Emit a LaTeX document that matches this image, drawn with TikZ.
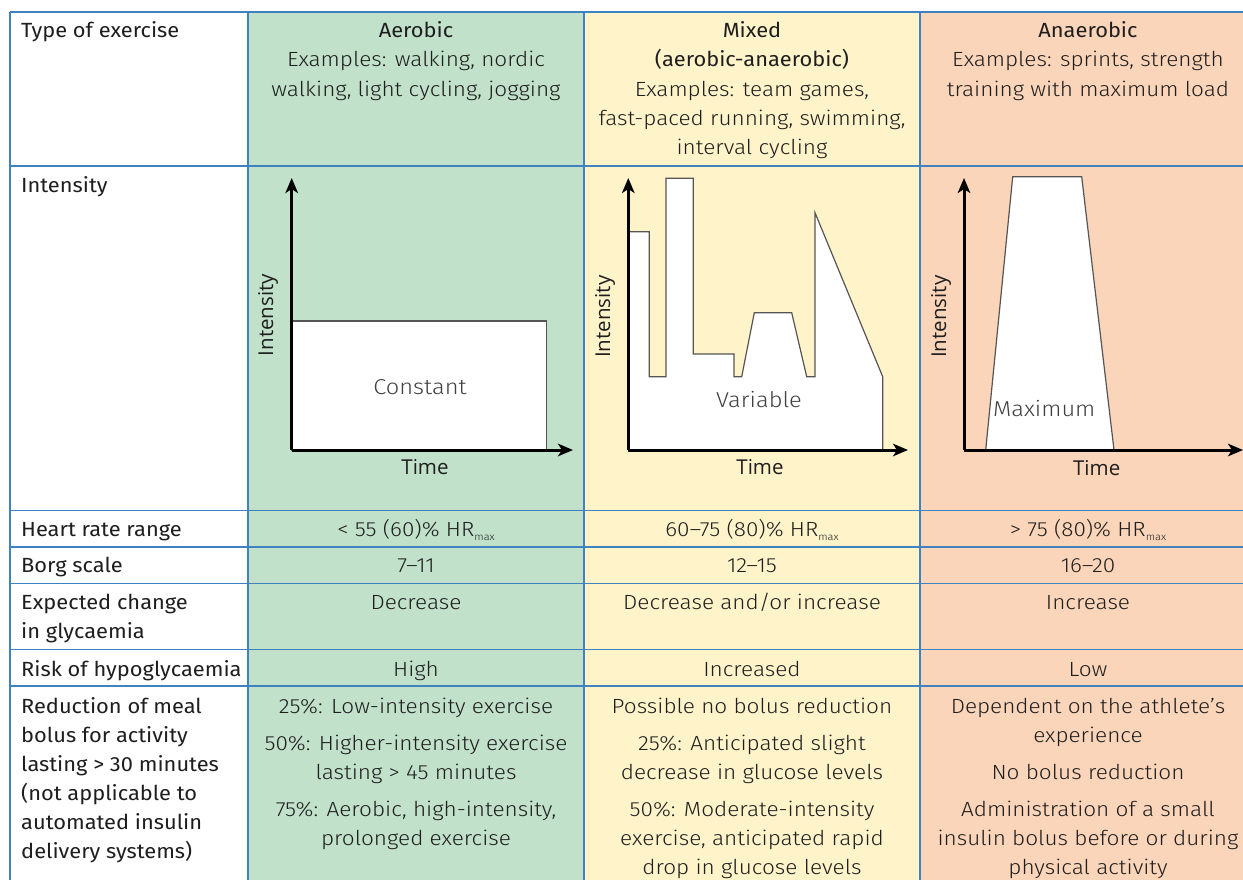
\documentclass[tikz,border=0pt]{standalone}
\usepackage{fontspec}
\usetikzlibrary{arrows.meta}
\setmainfont[FakeStretch=1.065]{Fira Sans}
\newfontfamily\tablight[FakeStretch=1.1]{Fira Sans Light}
\newfontfamily\axisfam{Open Sans}
\newcommand\tabreg{\normalfont\fontsize{20.5}{24}\selectfont}
\newcommand\tablt{\tablight\fontsize{20.5}{24}\selectfont}
\newcommand\axisft{\axisfam\fontsize{20.5}{24}\selectfont}
\newcommand\profileft{\tablight\fontsize{21.5}{24}\selectfont}
\newcommand\hrmax{HR\raisebox{-4.5pt}{\fontsize{10}{10}\selectfont max}}

\definecolor{aerofill}{HTML}{C1E1CB}
\definecolor{mixfill}{HTML}{FFF3CA}
\definecolor{anaefill}{HTML}{FBD5B9}
\definecolor{gridblue}{HTML}{3E82C0}
\definecolor{inkc}{HTML}{1E1E1E}
\definecolor{outline}{HTML}{555555}

\tikzset{
  rowlabel/.style={anchor=base west, inner sep=0pt, font=\tabreg, text=inkc},
  colhead/.style={anchor=base, inner sep=0pt, font=\tabreg, text=inkc},
  celltext/.style={anchor=base, inner sep=0pt, font=\tablt, text=inkc},
  gridline/.style={draw=gridblue, line width=1.6pt},
  axisline/.style={line width=3pt, black, -{Stealth[length=15pt,width=12.5pt,inset=4pt]}},
  profile/.style={fill=white, draw=outline, line width=1.2pt, line join=miter},
  axislabel/.style={inner sep=0pt, font=\axisft, text=inkc},
  profilelabel/.style={inner sep=0pt, font=\profileft, text=inkc!85},
}

\begin{document}
\begin{tikzpicture}[x=1pt,y=-1pt]
\useasboundingbox (0,0) rectangle (1243,879);
\clip (0,0) rectangle (1243,879);

% column backgrounds
\fill[white]    (0,0)    rectangle (1243,879);
\fill[aerofill] (248,12) rectangle (584,900);
\fill[mixfill]  (584,12) rectangle (920,900);
\fill[anaefill] (920,12) rectangle (1256,900);

% table rules
\foreach \ry in {12,166,510.5,547,583.5,649.5,686}
  \draw[gridline] (10,\ry) -- (1256,\ry);
\foreach \cx in {10,248,584,920}
  \draw[gridline] (\cx,12) -- (\cx,900);

% ---------- header row ----------
\node[rowlabel] (typelbl) at (21,37.3) {Type of exercise};

\node[colhead]  (aeroA) at (416,37.3) {Aerobic};
\node[celltext] (aeroB) at (416,66.7) {Examples: walking, nordic};
\node[celltext] (aeroC) at (416,96)   {walking, light cycling, jogging};

\node[colhead]  (mixA) at (752,37.3)  {Mixed};
\node[colhead]  (mixB) at (752,66.7)  {(aerobic-anaerobic)};
\node[celltext] (mixC) at (752,96)    {Examples: team games,};
\node[celltext] (mixD) at (752,125.3) {fast-paced running, swimming,};
\node[celltext] (mixE) at (752,154.7) {interval cycling};

\node[colhead]  (anaA) at (1088,37.3) {Anaerobic};
\node[celltext] (anaB) at (1088,66.7) {Examples: sprints, strength};
\node[celltext] (anaC) at (1088,96)   {training with maximum load};

% ---------- intensity row ----------
\node[rowlabel] (intlbl) at (21,192) {Intensity};

% constant profile
\coordinate (o1) at (291.7,450);
\coordinate (y1) at (291.7,178);
\coordinate (x1) at (573,450);
\draw[profile] (291.7,450) rectangle (546.7,321);
\draw[axisline] (o1) -- (y1);
\draw[axisline] (o1) -- (x1);
\node[axislabel, rotate=90] (int1) at (268,315) {Intensity};
\node[axislabel] (time1) at (425,466.7) {Time};
\node[profilelabel] (const) at (420,386.7) {Constant};

% variable profile
\coordinate (o2) at (628.3,450);
\coordinate (y2) at (628.3,178);
\coordinate (x2) at (908,450);
\draw[profile] (629.3,450) -- (629.3,231.7) -- (649.3,231.7) -- (649.3,376.7)
  -- (666,376.7) -- (666,178.3) -- (693.3,178.3) -- (693.3,354) -- (734,354)
  -- (734,376.7) -- (741.7,376.7) -- (754.3,312.7) -- (791.7,312.7)
  -- (806.7,376.7) -- (815,376.7) -- (815,212.7) -- (882.7,376.7)
  -- (882.7,450) -- cycle;
\draw[axisline] (o2) -- (y2);
\draw[axisline] (o2) -- (x2);
\node[axislabel, rotate=90] (int2) at (605,316.7) {Intensity};
\node[axislabel] (time2) at (760,466.7) {Time};
\node[profilelabel] (vari) at (759,400) {Variable};

% maximum profile
\coordinate (o3) at (964,450);
\coordinate (y3) at (964,178);
\coordinate (x3) at (1243,450);
\draw[profile] (985.7,450) -- (1012.7,176.7) -- (1081.7,176.7) -- (1114,450) -- cycle;
\draw[axisline] (o3) -- (y3);
\draw[axisline] (o3) -- (x3);
\node[axislabel, rotate=90] (int3) at (941,316.7) {Intensity};
\node[axislabel] (time3) at (1096.7,468) {Time};
\node[profilelabel] (maxi) at (1044.3,408.3) {Maximum};

% ---------- heart rate ----------
\node[rowlabel] (hrlbl) at (21,536) {Heart rate range};
\node[celltext] (hrA) at (416,536)  {< 55 (60)\% \hrmax};
\node[celltext] (hrB) at (752,536)  {60–75 (80)\% \hrmax};
\node[celltext] (hrC) at (1088,536) {> 75 (80)\% \hrmax};

% ---------- Borg scale ----------
\node[rowlabel] (borglbl) at (21,572.7) {Borg scale};
\node[celltext] (borgA) at (416,572.7)  {7–11};
\node[celltext] (borgB) at (752,572.7)  {12–15};
\node[celltext] (borgC) at (1088,572.7) {16–20};

% ---------- glycaemia ----------
\node[rowlabel] (glylblA) at (21,609.3) {Expected change};
\node[rowlabel] (glylblB) at (21,638.3) {in glycaemia};
\node[celltext] (glyA) at (416,609.3)  {Decrease};
\node[celltext] (glyB) at (752,609.3)  {Decrease and/or increase};
\node[celltext] (glyC) at (1088,609.3) {Increase};

% ---------- hypoglycaemia risk ----------
\node[rowlabel] (risklbl) at (21,676) {Risk of hypoglycaemia};
\node[celltext] (riskA) at (416,676)  {High};
\node[celltext] (riskB) at (752,676)  {Increased};
\node[celltext] (riskC) at (1088,676) {Low};

% ---------- meal bolus reduction ----------
\node[rowlabel] (bollblA) at (21,713.3) {Reduction of meal};
\node[rowlabel] (bollblB) at (21,742.3) {bolus for activity};
\node[rowlabel] (bollblC) at (21,771.3) {lasting > 30 minutes};
\node[rowlabel] (bollblD) at (21,800.3) {(not applicable to};
\node[rowlabel] (bollblE) at (21,829.3) {automated insulin};
\node[rowlabel] (bollblF) at (21,858.3) {delivery systems)};

\node[celltext] (bolA1) at (416,713.3) {25\%: Low-intensity exercise};
\node[celltext] (bolA2) at (416,750)   {50\%: Higher-intensity exercise};
\node[celltext] (bolA3) at (416,779)   {lasting > 45 minutes};
\node[celltext] (bolA4) at (416,816)   {75\%: Aerobic, high-intensity,};
\node[celltext] (bolA5) at (416,845)   {prolonged exercise};

\node[celltext] (bolB1) at (752,713.3) {Possible no bolus reduction};
\node[celltext] (bolB2) at (752,750)   {25\%: Anticipated slight};
\node[celltext] (bolB3) at (752,779)   {decrease in glucose levels};
\node[celltext] (bolB4) at (752,816)   {50\%: Moderate-intensity};
\node[celltext] (bolB5) at (752,845)   {exercise, anticipated rapid};
\node[celltext] (bolB6) at (752,874)   {drop in glucose levels};

\node[celltext] (bolC1) at (1088,713.3) {Dependent on the athlete’s};
\node[celltext] (bolC2) at (1088,742.3) {experience};
\node[celltext] (bolC3) at (1088,779)   {No bolus reduction};
\node[celltext] (bolC4) at (1088,816)   {Administration of a small};
\node[celltext] (bolC5) at (1088,845)   {insulin bolus before or during};
\node[celltext] (bolC6) at (1088,874)   {physical activity};
\end{tikzpicture}
\end{document}
